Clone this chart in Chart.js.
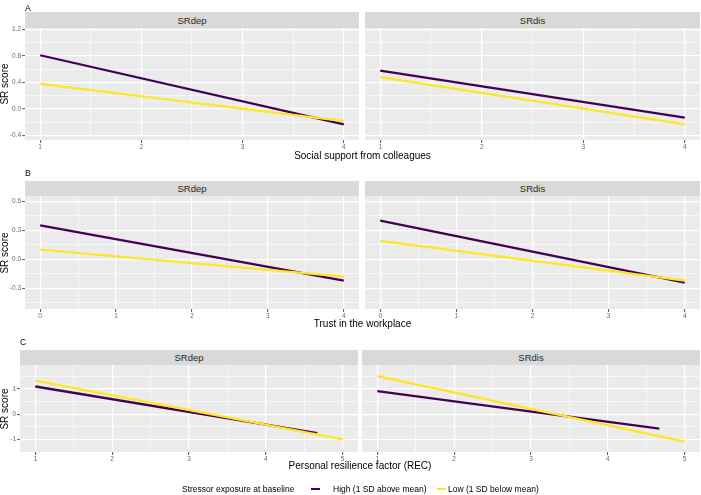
<!DOCTYPE html>
<html><head><meta charset="utf-8">
<script src="https://cdn.jsdelivr.net/npm/chart.js@4"></script>
<style>
html,body{margin:0;padding:0;background:#fff;}
#wrap{position:relative;width:701px;height:495px;overflow:hidden;font-family:"Liberation Sans",Arial,sans-serif;}
#wrap canvas{position:absolute;left:0;top:0;}
.t{position:absolute;white-space:nowrap;line-height:1;}
.strip{position:absolute;background:#D9D9D9;color:#2a2a2a;font-size:9.5px;display:flex;align-items:center;justify-content:center;}
.key{position:absolute;height:2.2px;}
</style></head>
<body><div id="wrap"></div>
<script>
// ---------- data ----------
const panelLetters = ['A', 'B', 'C'];
const facetNames = ['SRdep', 'SRdis'];
const xTitles = ['Social support from colleagues', 'Trust in the workplace', 'Personal resilience factor (REC)'];
const yTitle = 'SR score';
const legendTitle = 'Stressor exposure at baseline';
const seriesNames = ['High (1 SD above mean)', 'Low (1 SD below mean)'];

// Row A: social support from colleagues
const xA = [1, 4];
const aDepHigh = [0.81, -0.23];
const aDepLow = [0.38, -0.18];
const aDisHigh = [0.58, -0.13];
const aDisLow = [0.48, -0.23];
// Row B: trust in the workplace
const xB = [0, 4];
const bDepHigh = [0.35, -0.22];
const bDepLow = [0.10, -0.18];
const bDisHigh = [0.40, -0.24];
const bDisLow = [0.19, -0.22];
// Row C: personal resilience factor
const xCHigh = [1, 4.67];
const xCLow = [1, 5];
const cDepHigh = [1.09, -0.75];
const cDepLow = [1.32, -0.99];
const cDisHigh = [0.91, -0.57];
const cDisLow = [1.50, -1.08];

// tick values
const xMajorA = [1, 2, 3, 4], xMinorA = [1.5, 2.5, 3.5];
const yMajorA = [-0.4, 0, 0.4, 0.8, 1.2], yMinorA = [-0.2, 0.2, 0.6, 1.0];
const xMajorB = [0, 1, 2, 3, 4], xMinorB = [0.5, 1.5, 2.5, 3.5];
const yMajorB = [-0.3, 0, 0.3, 0.6], yMinorB = [-0.45, -0.15, 0.15, 0.45];
const xMajorC = [1, 2, 3, 4, 5], xMinorC = [1.5, 2.5, 3.5, 4.5];
const yMajorC = [-1, 0, 1], yMinorC = [-0.5, 0.5, 1.5];

// ---------- styles / layout ----------
const W = 701, H = 495, XAXIS_H = 14;
const FONT = '"Liberation Sans", Arial, sans-serif';
const colHigh = '#440154', colLow = '#FDE725';
const tickCol = '#6b6b6b';
const wrap = document.getElementById('wrap');

const rows = [
  { letterY: 7.5, stripTop: 12, top: 28, bottom: 140, L: [25, 359], R: [365, 700], titleY: 156,
    xr: [0.85, 4.15], yr: [-0.465, 1.22], xMajor: xMajorA, xMinor: xMinorA, yMajor: yMajorA, yMinor: yMinorA,
    fmt: v => v.toFixed(1),
    facets: [
      [{ x: xA, y: aDepHigh, c: colHigh, o: 1 }, { x: xA, y: aDepLow, c: colLow, o: 0 }],
      [{ x: xA, y: aDisHigh, c: colHigh, o: 1 }, { x: xA, y: aDisLow, c: colLow, o: 0 }]
    ] },
  { letterY: 172.5, stripTop: 181, top: 196, bottom: 309, L: [25, 359], R: [365, 700], titleY: 324,
    xr: [-0.2, 4.2], yr: [-0.514, 0.655], xMajor: xMajorB, xMinor: xMinorB, yMajor: yMajorB, yMinor: yMinorB,
    fmt: v => v.toFixed(1),
    facets: [
      [{ x: xB, y: bDepHigh, c: colHigh, o: 1 }, { x: xB, y: bDepLow, c: colLow, o: 0 }],
      [{ x: xB, y: bDisHigh, c: colHigh, o: 1 }, { x: xB, y: bDisLow, c: colLow, o: 0 }]
    ] },
  { letterY: 341.7, stripTop: 350, top: 365, bottom: 452, L: [20, 358], R: [362, 700], titleY: 466,
    xr: [0.8, 5.2], yr: [-1.49, 1.937], xMajor: xMajorC, xMinor: xMinorC, yMajor: yMajorC, yMinor: yMinorC,
    fmt: v => String(Math.round(v)),
    facets: [
      [{ x: xCHigh, y: cDepHigh, c: colHigh, o: 1 }, { x: xCLow, y: cDepLow, c: colLow, o: 0 }],
      [{ x: xCHigh, y: cDisHigh, c: colHigh, o: 1 }, { x: xCLow, y: cDisLow, c: colLow, o: 0 }]
    ] }
];

function isIn(list, v) { return list.some(t => Math.abs(t - v) < 1e-9); }

const panelBg = {
  id: 'panelBg',
  beforeDraw(chart) {
    const a = chart.chartArea, ctx = chart.ctx;
    ctx.save(); ctx.fillStyle = '#EBEBEB';
    ctx.fillRect(a.left, a.top, a.right - a.left, a.bottom - a.top);
    ctx.restore();
  }
};

function gridOpts(major, ticks) {
  return {
    color: '#FFFFFF',
    lineWidth: ctx => (ctx.tick && isIn(major, ctx.tick.value)) ? 1.2 : 0.6,
    drawTicks: ticks,
    tickLength: 3,
    tickColor: ctx => (ctx.tick && isIn(major, ctx.tick.value)) ? '#444444' : 'rgba(0,0,0,0)',
    tickWidth: ctx => (ctx.tick && isIn(major, ctx.tick.value)) ? 0.9 : 0
  };
}
function zeroPad(s) { s.paddingLeft = 0; s.paddingRight = 0; s.paddingTop = 0; s.paddingBottom = 0; }

function makePanel(row, fi) {
  const [pl, pr] = fi === 0 ? row.L : row.R;
  const yW = fi === 0 ? pl : 0;
  const cv = document.createElement('canvas');
  cv.width = W; cv.height = H;
  cv.style.width = W + 'px'; cv.style.height = H + 'px';
  wrap.appendChild(cv);
  const showY = fi === 0;
  new Chart(cv, {
    type: 'scatter',
    data: {
      datasets: row.facets[fi].map((s, i) => ({
        label: seriesNames[i],
        data: s.x.map((xv, k) => ({ x: xv, y: s.y[k] })),
        borderColor: s.c, backgroundColor: s.c,
        showLine: true, pointRadius: 0, borderWidth: 2.3, order: s.o, borderCapStyle: 'butt'
      }))
    },
    options: {
      responsive: false, animation: false,
      layout: { padding: { left: pl - yW, right: W - pr, top: row.top, bottom: H - row.bottom - XAXIS_H } },
      plugins: { legend: { display: false }, tooltip: { enabled: false } },
      scales: {
        x: {
          type: 'linear', min: row.xr[0], max: row.xr[1],
          afterBuildTicks: s => { s.ticks = [...row.xMajor, ...row.xMinor].sort((a, b) => a - b).map(v => ({ value: v })); },
          afterFit: s => { s.height = XAXIS_H; zeroPad(s); },
          ticks: { autoSkip: false, maxRotation: 0, minRotation: 0, padding: 0, color: tickCol,
            font: { family: FONT, size: 6.5 },
            callback: v => isIn(row.xMajor, v) ? String(Math.round(v)) : '' },
          grid: gridOpts(row.xMajor, true),
          border: { display: false }
        },
        y: {
          type: 'linear', min: row.yr[0], max: row.yr[1],
          afterBuildTicks: s => { s.ticks = [...row.yMajor, ...row.yMinor].sort((a, b) => a - b).map(v => ({ value: v })); },
          afterFit: s => { s.width = yW; zeroPad(s); },
          ticks: { display: showY, autoSkip: false, padding: 1, color: tickCol,
            font: { family: FONT, size: 6.5 },
            callback: v => isIn(row.yMajor, v) ? row.fmt(v) : '' },
          grid: gridOpts(row.yMajor, showY),
          border: { display: false }
        }
      }
    },
    plugins: [panelBg]
  });
}

function text(str, x, yc, size, anchor, color, extra) {
  const d = document.createElement('div');
  d.className = 't';
  d.textContent = str;
  d.style.fontSize = size + 'px';
  d.style.color = color || '#000';
  d.style.left = x + 'px';
  d.style.top = yc + 'px';
  const tx = anchor === 'middle' ? '-50%' : (anchor === 'end' ? '-100%' : '0');
  d.style.transform = 'translate(' + tx + ',-50%)' + (extra || '');
  wrap.appendChild(d);
  return d;
}

rows.forEach((row, ri) => {
  makePanel(row, 0);
  makePanel(row, 1);
  [row.L, row.R].forEach((lr, fi) => {
    const s = document.createElement('div');
    s.className = 'strip';
    s.style.left = lr[0] + 'px'; s.style.width = (lr[1] - lr[0]) + 'px';
    s.style.top = row.stripTop + 'px'; s.style.height = (row.top - row.stripTop) + 'px';
    s.textContent = facetNames[fi];
    wrap.appendChild(s);
  });
  text(panelLetters[ri], row.L[0], row.letterY, 8.5, 'start', '#000');
  text(xTitles[ri], (row.L[0] + row.R[1]) / 2, row.titleY, 10, 'middle', '#000');
  text(yTitle, 5, (row.top + row.bottom) / 2, 10, 'middle', '#000', ' rotate(-90deg)');
});

// legend
const legY = 489;
text(legendTitle, 182, legY, 8.5, 'start', '#000');
const k1 = document.createElement('div'); k1.className = 'key';
k1.style.cssText += 'left:311px;top:' + (legY - 1.1) + 'px;width:9px;background:' + colHigh + ';';
wrap.appendChild(k1);
text(seriesNames[0], 333, legY, 8.5, 'start', '#000');
const k2 = document.createElement('div'); k2.className = 'key';
k2.style.cssText += 'left:437px;top:' + (legY - 1.1) + 'px;width:9px;background:' + colLow + ';';
wrap.appendChild(k2);
text(seriesNames[1], 448, legY, 8.5, 'start', '#000');
</script>
</body></html>
